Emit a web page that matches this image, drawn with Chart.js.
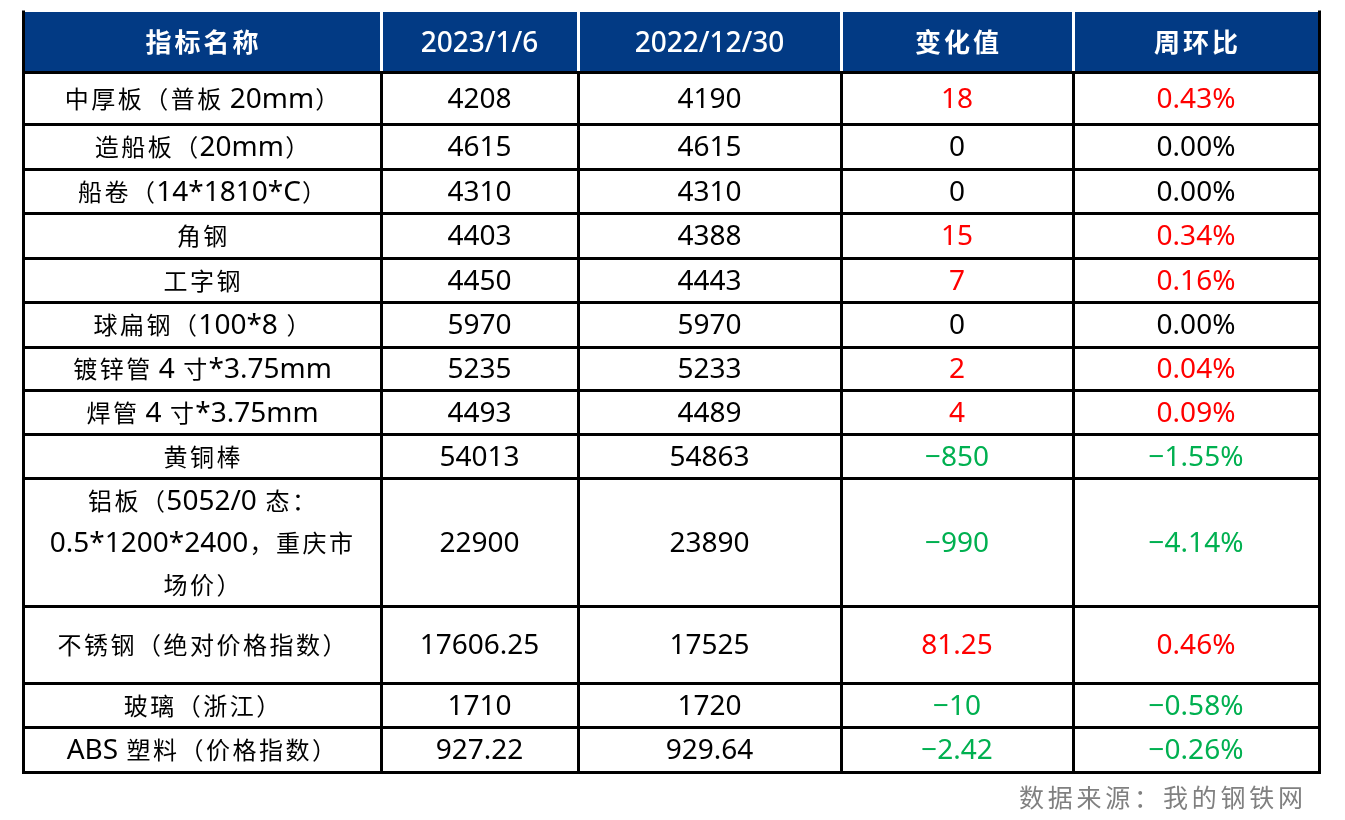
<!DOCTYPE html>
<html>
<head>
<meta charset="utf-8">
<script src="https://cdn.jsdelivr.net/npm/chart.js@4.4.1/dist/chart.umd.min.js"></script>
<style>
html,body{margin:0;padding:0;background:#ffffff;}
#wrap{width:1345px;height:820px;position:relative;}
</style>
</head>
<body>
<div id="wrap"><canvas id="c"></canvas></div>
<script>
// ---------- data ----------
const headers = ['指标名称', '2023/1/6', '2022/12/30', '变化值', '周环比'];
const names = [
  '中厚板（普板 20mm）',
  '造船板（20mm）',
  '船卷（14*1810*C）',
  '角钢',
  '工字钢',
  '球扁钢（100*8 ）',
  '镀锌管 4 寸*3.75mm',
  '焊管 4 寸*3.75mm',
  '黄铜棒',
  '铝板（5052/0 态：\n0.5*1200*2400，重庆市\n场价）',
  '不锈钢（绝对价格指数）',
  '玻璃（浙江）',
  'ABS 塑料（价格指数）'
];
const thisWeek = [4208, 4615, 4310, 4403, 4450, 5970, 5235, 4493, 54013, 22900, 17606.25, 1710, 927.22];
const lastWeek = [4190, 4615, 4310, 4388, 4443, 5970, 5233, 4489, 54863, 23890, 17525, 1720, 929.64];
const changes  = [18, 0, 0, 15, 7, 0, 2, 4, -850, -990, 81.25, -10, -2.42];
const weekPct  = [0.43, 0.00, 0.00, 0.34, 0.16, 0.00, 0.04, 0.09, -1.55, -4.14, 0.46, -0.58, -0.26];
const sourceNote = '数据来源：我的钢铁网';

// ---------- layout (not data) ----------
const colW = [358, 197, 263, 232, 246];
const rowH = [60, 52, 45, 44, 45, 44, 45, 43, 44, 44, 128, 77, 44, 45];
const colEdge = [0]; colW.forEach(w => colEdge.push(colEdge[colEdge.length - 1] + w));
const rowEdge = [0]; rowH.forEach(h => rowEdge.push(rowEdge[rowEdge.length - 1] + h));
const HEADER_BG = '#023A84';
const RED = '#FF0000', GREEN = '#00B050', BLACK = '#000000';

const fmtNum = v => String(v).replace('-', '\u2212');
const fmtPct = v => v.toFixed(2).replace('-', '\u2212') + '%';
const signColor = v => v > 0 ? RED : (v < 0 ? GREEN : BLACK);

// build cells
const cells = [];
headers.forEach((h, c) => cells.push({ r: 0, c, text: h, color: '#FFFFFF', header: true }));
names.forEach((n, i) => {
  const r = i + 1;
  cells.push({ r, c: 0, text: n, color: BLACK });
  cells.push({ r, c: 1, text: fmtNum(thisWeek[i]), color: BLACK });
  cells.push({ r, c: 2, text: fmtNum(lastWeek[i]), color: BLACK });
  cells.push({ r, c: 3, text: fmtNum(changes[i]), color: signColor(changes[i]) });
  cells.push({ r, c: 4, text: fmtPct(weekPct[i]), color: signColor(weekPct[i]) });
});
const points = cells.map(cl => ({
  x: (colEdge[cl.c] + colEdge[cl.c + 1]) / 2,
  y: (rowEdge[cl.r] + rowEdge[cl.r + 1]) / 2
}));

// ---------- text helpers ----------
const cjkRe = /[\u2E80-\u9FFF\uFF00-\uFFEF\u3000-\u303F]/;
function splitRuns(text) {
  const out = [];
  for (const ch of text) {
    const k = cjkRe.test(ch);
    if (out.length && out[out.length - 1].cjk === k) out[out.length - 1].s += ch;
    else out.push({ cjk: k, s: ch });
  }
  return out;
}
function drawMixed(ctx, text, cx, cy, o) {
  const runs = splitRuns(text);
  const latFont = `${o.latBold ? '500 ' : ''}${o.lat}px "Noto Sans", "Liberation Sans", sans-serif`;
  const cjkFont = `${o.bold ? 'bold ' : ''}${o.cjk}px "Noto Sans CJK SC", "Noto Sans", sans-serif`;
  let total = 0;
  runs.forEach(r => {
    if (r.cjk) { r.w = [...r.s].length * o.adv; }
    else { ctx.font = latFont; r.w = ctx.measureText(r.s).width; }
    total += r.w;
  });
  let x = o.align === 'right' ? cx - total : cx - total / 2;
  const base = cy + 0.357 * o.lat;
  ctx.fillStyle = o.color;
  ctx.textBaseline = 'alphabetic';
  ctx.textAlign = 'left';
  runs.forEach(r => {
    if (r.cjk) {
      ctx.font = cjkFont;
      let xx = x;
      for (const ch of r.s) {
        const w = ctx.measureText(ch).width;
        ctx.fillText(ch, xx + (o.adv - w) / 2, base);
        xx += o.adv;
      }
    } else {
      ctx.font = latFont;
      ctx.fillText(r.s, x, base);
    }
    x += r.w;
  });
}

// ---------- plugin ----------
const tablePlugin = {
  id: 'tablePlugin',
  beforeDatasetsDraw(chart) {
    const { ctx } = chart;
    const xs = chart.scales.x, ys = chart.scales.y;
    const px = v => Math.round(xs.getPixelForValue(v));
    const py = v => Math.round(ys.getPixelForValue(v));
    ctx.save();
    // header background
    ctx.fillStyle = HEADER_BG;
    ctx.fillRect(px(0), py(0), px(colEdge[5]) - px(0), py(rowEdge[1]) - py(0));
    // header white separators
    ctx.strokeStyle = '#FFFFFF';
    ctx.lineWidth = 3;
    for (let c = 1; c < colEdge.length - 1; c++) {
      ctx.beginPath();
      ctx.moveTo(px(colEdge[c]) + 0.5, py(0));
      ctx.lineTo(px(colEdge[c]) + 0.5, py(rowEdge[1]));
      ctx.stroke();
    }
    // black grid
    ctx.strokeStyle = '#000000';
    ctx.lineWidth = 3;
    ctx.lineCap = 'square';
    for (let r = 1; r < rowEdge.length; r++) {
      ctx.beginPath();
      ctx.moveTo(px(0) + 0.5, py(rowEdge[r]) + 0.5);
      ctx.lineTo(px(colEdge[5]) + 0.5, py(rowEdge[r]) + 0.5);
      ctx.stroke();
    }
    [0, colEdge.length - 1].forEach(c => {
      ctx.beginPath();
      ctx.moveTo(px(colEdge[c]) + 0.5, py(0));
      ctx.lineTo(px(colEdge[c]) + 0.5, py(rowEdge[rowEdge.length - 1]) + 0.5);
      ctx.stroke();
    });
    for (let c = 1; c < colEdge.length - 1; c++) {
      ctx.beginPath();
      ctx.moveTo(px(colEdge[c]) + 0.5, py(rowEdge[1]) + 0.5);
      ctx.lineTo(px(colEdge[c]) + 0.5, py(rowEdge[rowEdge.length - 1]) + 0.5);
      ctx.stroke();
    }
    ctx.restore();
  },
  afterDatasetsDraw(chart) {
    const { ctx } = chart;
    const meta = chart.getDatasetMeta(0);
    ctx.save();
    cells.forEach((cl, i) => {
      const el = meta.data[i];
      const lines = cl.text.split('\n');
      const lh = 42;
      lines.forEach((ln, k) => {
        const cy = el.y + (k - (lines.length - 1) / 2) * lh;
        if (cl.header) {
          drawMixed(ctx, ln, el.x, cy, { lat: 28, cjk: 26, adv: 29, bold: true, latBold: true, color: cl.color });
        } else {
          drawMixed(ctx, ln, el.x, cy, { lat: 28, cjk: 24, adv: 26.5, bold: false, color: cl.color });
        }
      });
    });
    // source note
    const xs = chart.scales.x, ys = chart.scales.y;
    drawMixed(ctx, sourceNote, xs.getPixelForValue(colEdge[5]) - 14, ys.getPixelForValue(rowEdge[rowEdge.length - 1]) + 26,
      { lat: 26, cjk: 25, adv: 28.8, bold: false, color: '#808080', align: 'right' });
    ctx.restore();
  }
};

new Chart(document.getElementById('c'), {
  type: 'scatter',
  data: {
    datasets: [{
      data: points,
      pointRadius: 0,
      pointHoverRadius: 0,
      showLine: false
    }]
  },
  options: {
    responsive: true,
    maintainAspectRatio: false,
    animation: false,
    events: [],
    layout: { padding: { left: 23, top: 12, right: 26, bottom: 48 } },
    plugins: { legend: { display: false }, tooltip: { enabled: false }, title: { display: false } },
    scales: {
      x: { type: 'linear', min: 0, max: colEdge[5], display: false },
      y: { type: 'linear', min: 0, max: rowEdge[rowEdge.length - 1], reverse: true, display: false }
    }
  },
  plugins: [tablePlugin]
});
</script>
</body>
</html>
